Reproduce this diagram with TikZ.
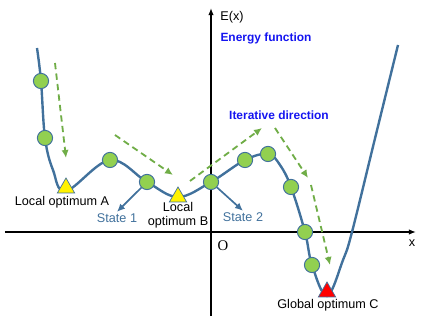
\documentclass[tikz,border=0pt]{standalone}
\usepackage{fontspec}
\setmainfont{Liberation Serif}
\setsansfont{Liberation Sans}
\usetikzlibrary{arrows.meta,shapes.geometric}
\definecolor{curveblue}{RGB}{65,113,156}
\definecolor{dotgreen}{RGB}{146,208,80}
\definecolor{dashgreen}{RGB}{112,173,71}
\definecolor{labelblue}{RGB}{20,20,240}
\tikzset{
  curve/.style={draw=curveblue, line width=1.7pt},
  dot/.style={circle, draw=curveblue, line width=0.7pt, fill=dotgreen, minimum size=3.8mm, inner sep=0pt},
  optimum/.style={regular polygon, regular polygon sides=3, draw=curveblue, line width=0.5pt, minimum size=5mm, inner sep=0pt},
  axis/.style={-{Latex[length=1.8mm,width=1.4mm]}, line width=1.1pt},
  iterarrow/.style={-{Latex[length=2mm,width=1.8mm]}, draw=dashgreen, line width=1.3pt, dash pattern=on 4.5pt off 3pt},
  statearrow/.style={-{Latex[length=2mm,width=1.8mm]}, draw=curveblue, line width=1.2pt},
  lbl/.style={font=\sffamily\fontsize{9}{10}\selectfont, inner sep=1pt, align=center},
  bluelbl/.style={lbl, text=labelblue, font=\sffamily\bfseries\fontsize{8.5}{10}\selectfont}
}
\begin{document}
\begin{tikzpicture}
\useasboundingbox (-5.275,-2.15) rectangle (5.275,5.8);
% axes
\coordinate (xl) at (-5.15,0);
\coordinate (xr) at (5.125,0);
\coordinate (yb) at (0,-2.1);
\coordinate (yt) at (0,5.6);
\draw[axis] (xl) -- (xr);
\draw[axis] (yb) -- (yt);
\node[lbl] (ex) at (0.525,5.375) {E(x)};
\node[lbl] (xlab) at (5.025,-0.275) {x};
\node[font=\rmfamily\fontsize{10.5}{12}\selectfont, inner sep=1pt] (orig) at (0.3,-0.35) {O};
% energy curve
\draw[curve] plot[smooth, tension=0.6] coordinates {
  (-4.35,4.6) (-4.25,3.775) (-4.15,2.35) (-3.95,1.55) (-3.625,1.025)
  (-2.525,1.8) (-1.6,1.25) (-0.825,0.875) (0,1.25) (0.85,1.8)
  (1.425,1.95) (1.725,1.675) (2.0,1.125) (2.35,0) (2.525,-0.825)
  (2.9,-1.6) (3.3,-0.7) (3.525,0) (4.1,2.34) (4.675,4.675)};
% optima
\node[optimum, fill=yellow] (optA) at (-3.625,1.1) {};
\node[optimum, fill=yellow] (optB) at (-0.825,0.875) {};
\node[optimum, fill=red] (optC) at (2.9,-1.5) {};
% states
\node[dot] (d1) at (-4.25,3.775) {};
\node[dot] (d2) at (-4.15,2.35) {};
\node[dot] (d3) at (-2.525,1.8) {};
\node[dot] (d4) at (-1.6,1.25) {};
\node[dot] (d5) at (0,1.25) {};
\node[dot] (d6) at (0.85,1.8) {};
\node[dot] (d7) at (1.425,1.95) {};
\node[dot] (d8) at (2.0,1.125) {};
\node[dot] (d9) at (2.35,0) {};
\node[dot] (d10) at (2.525,-0.825) {};
% labels
\node[lbl] (labA) at (-3.725,0.75) {Local optimum A};
\node[lbl] (labB) at (-0.825,0.41) {Local\\optimum B};
\node[lbl] (labC) at (2.925,-1.825) {Global optimum C};
\node[lbl, text=curveblue] (state1) at (-2.35,0.35) {State 1};
\node[lbl, text=curveblue] (state2) at (0.8,0.375) {State 2};
\node[bluelbl] (energy) at (1.375,4.85) {Energy function};
\node[bluelbl] (iter) at (1.7,2.925) {Iterative direction};
\draw[statearrow] (d4) -- (state1.north);
\draw[statearrow] (d5) -- (state2.north);
% iterative direction
\coordinate (g1s) at (-3.9,4.225);
\coordinate (g1e) at (-3.625,1.85);
\coordinate (g2s) at (-2.4,2.425);
\coordinate (g2e) at (-0.95,1.425);
\coordinate (g3s) at (-0.525,1.275);
\coordinate (g3e) at (1.275,2.6);
\coordinate (g4s) at (1.6,2.6);
\coordinate (g4e) at (2.425,1.35);
\coordinate (g5s) at (2.5,1.175);
\coordinate (g5e) at (2.975,-0.825);
\draw[iterarrow] (g1s) -- (g1e);
\draw[iterarrow] (g2s) -- (g2e);
\draw[iterarrow] (g3s) -- (g3e);
\draw[iterarrow] (g4s) -- (g4e);
\draw[iterarrow] (g5s) -- (g5e);
\end{tikzpicture}
\end{document}
